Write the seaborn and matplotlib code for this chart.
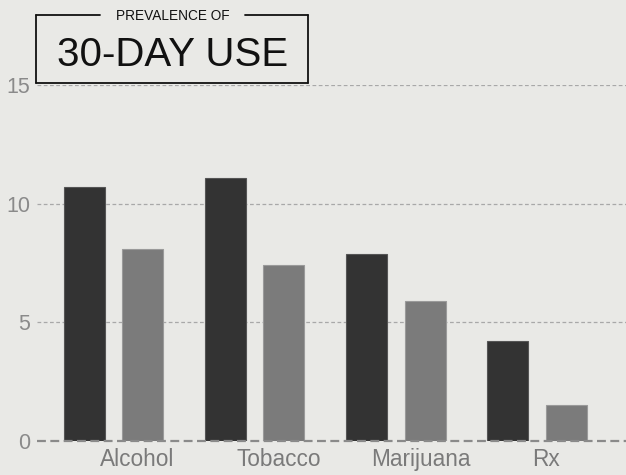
import pandas as pd
import numpy as np
import matplotlib.pyplot as plt
import seaborn as sns
from matplotlib.lines import Line2D

# data
categories = ['Alcohol', 'Tobacco', 'Marijuana', 'Rx']
series_a = [10.7, 11.1, 7.9, 4.2]
series_b = [8.1, 7.4, 5.9, 1.5]
y_ticks = [0, 5, 10, 15]

df = pd.DataFrame({
    'drug': categories * 2,
    'value': series_a + series_b,
    'group': ['A'] * len(categories) + ['B'] * len(categories),
})

sns.set_style('white')
plt.rcParams['font.family'] = ['Liberation Sans', 'DejaVu Sans']

bg = '#e9e9e6'
fig = plt.figure(figsize=(6.26, 4.75), dpi=100, facecolor=bg)
W, H = 626, 475
ax = fig.add_axes([37 / W, (H - 441) / H, 1 - 37 / W, 356 / H])
ax.set_facecolor(bg)

sns.barplot(data=df, x='drug', y='value', hue='group', order=categories,
            palette=['#333333', '#7b7b7b'], width=0.83, gap=0.3,
            legend=False, ax=ax, zorder=2)
for bar, ec in zip(ax.patches, ['#555555'] * 4 + ['#9a9a9a'] * 4):
    bar.set_edgecolor(ec)
    bar.set_linewidth(0.8)

ax.set_xlim(-0.542, 3.63)
ax.set_ylim(0, 15)
ax.set_yticks(y_ticks)
ax.set_yticklabels([str(t) for t in y_ticks], color='#8a8a8a', fontsize=15.5)
# labels sit a little right of the group centres
label_shift = [0.17, 0.17, 0.175, 0.066]
ax.set_xticks([i + s for i, s in enumerate(label_shift)])
ax.set_xticklabels(categories, color='#7a7a7a', fontsize=16.3)
ax.tick_params(axis='y', length=0, pad=5)
ax.tick_params(axis='x', length=0, pad=5)
ax.set_xlabel('')
ax.set_ylabel('')
for s in ax.spines.values():
    s.set_visible(False)

for t in y_ticks[1:]:
    ax.axhline(t, color='#a8a8a8', lw=0.9, ls=(0, (3, 2)), zorder=1)
ax.axhline(0, color='#8a8a8a', lw=1.6, ls=(0, (4, 2)), zorder=3, clip_on=False)

# title box
lc = '#111111'
def px(x, y):
    return x / W, 1 - y / H

for xs, ys in [((36, 36), (14.5, 83)), ((308, 308), (14.5, 83)),
               ((36, 308), (83, 83)), ((36, 100), (14.5, 14.5)),
               ((245, 308), (14.5, 14.5))]:
    fig.add_artist(Line2D([x / W for x in xs], [1 - y / H for y in ys],
                          color=lc, lw=1.3))
fig.text(*px(173, 15.5), 'PREVALENCE OF', ha='center', va='center',
         fontsize=9.8, color=lc)
fig.text(*px(173, 55), '30-DAY USE', ha='center', va='center',
         fontsize=29, color=lc)

fig.savefig('out.png', dpi=100, facecolor=bg)
